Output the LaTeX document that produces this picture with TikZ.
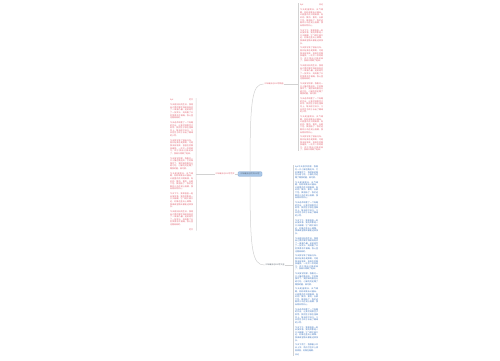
\documentclass[tikz,border=0pt]{standalone}
\usepackage{fontspec}
\newfontfamily\cjk{Noto Sans CJK SC}
\XeTeXlinebreaklocale "zh"
\XeTeXlinebreakskip=0pt plus 1pt
\setlength\parindent{0pt}
\tolerance=10000
\emergencystretch=3pt
\definecolor{redtxt}{HTML}{E0606F}
\definecolor{bluetxt}{HTML}{3A72BC}
\definecolor{linegray}{HTML}{D2D2D2}
\definecolor{centerfill}{HTML}{A9C7E8}
\definecolor{centerdraw}{HTML}{86A9D2}
\definecolor{labgray}{HTML}{5A6470}
\newcommand{\pA}{今天是星期天，天气晴朗，妈妈带我去公园玩。公园里的花开得真美，有红的、黄的、紫的，五颜六色，美丽极了。我们还看到小鸟在树上唱歌，我玩得非常开心。}
\newcommand{\pB}{今天下午，我和爸爸一起去放风筝。我的风筝是一只大蝴蝶，它飞得又高又远，好像在蓝天上跳舞。我真希望每天都能这样快乐。}
\newcommand{\pC}{今天我学会了骑自行车。刚开始我总是摔倒，可是我没有放弃，爸爸在后面扶着我，一次又一次地练习，终于我自己骑起来了，我高兴得跳了起来。}
\newcommand{\pD}{今天是妈妈的生日，我用自己攒的零花钱给妈妈买了一束康乃馨，还给她写了一张贺卡。妈妈看了以后笑得合不拢嘴，我心里也甜滋滋的。}
\newcommand{\pE}{今天放学回家，我看见一只小猫在路边叫，它好像饿坏了。我把带的面包分给它吃，小猫吃完还蹭了蹭我的腿，真可爱。}
\newcommand{\pF}{今天老师布置了一个有趣的作业，让我们观察豆子发芽。我把豆子放在湿棉花上，每天给它浇水，几天后豆子终于长出了嫩绿的小芽。}
\newcommand{\pG}{今天下雨了，我撑着小伞去上学，雨点打在伞上滴答滴答，好像在唱歌。}
\newcommand{\gp}{\par\vspace{2.2pt}}
\tikzset{
  conn/.style={draw=linegray, line width=0.5pt},
  colbox/.style={anchor=north west, inner sep=0pt, text width=23pt, align=justify,
    font=\cjk\fontsize{2.0}{2.6}\selectfont\tolerance=10000\emergencystretch=3pt},
  lab/.style={inner sep=0.6pt, font=\cjk\fontsize{2.0}{2.4}\selectfont},
  centerbox/.style={fill=centerfill, draw=centerdraw, line width=0.3pt, rounded corners=1pt,
    inner sep=0.8pt, minimum width=24pt, minimum height=4.6pt, text=labgray,
    font=\cjk\fontsize{2.0}{2.4}\selectfont}
}
\begin{document}
\begin{tikzpicture}[x=1pt,y=-1pt]
\useasboundingbox[fill=white] (0,0) rectangle (500,360);
% center
\node[centerbox] (c) at (250,174) {三年级日记作文100字};
% labels
\node[lab, text=redtxt] (L) at (225,174) {三年级日记100字范文};
\node[lab, text=redtxt] (TR) at (274,84) {三年级日记100字精选};
\node[lab, text=labgray] (BR) at (275,265) {三年级日记100字大全};
% columns
\node[colbox, text=redtxt] (TRcol) at (300,4) {\hfill\mbox{日记}\gp \pA\gp\pB\gp\pC\gp\pD\gp\pE\gp\pF\gp\pA\gp\pC};
\node[colbox, text=redtxt] (Lcol) at (170,99) {\hfill\mbox{范文}\gp \pD\gp\pF\gp\pC\gp\pE\gp\pA\gp\pB\gp\pD\gp\hfill\mbox{范文}};
\node[colbox, text=bluetxt] (BRcol) at (295,166) {\pE\gp\pA\gp\pF\gp\pB\gp\pD\gp\pC\gp\pE\gp\pA\gp\pF\gp\pB\gp\pG\gp\mbox{日记}};
% column rules
\coordinate (TRl1) at (298,3);
\coordinate (TRl2) at ([xshift=-2pt]TRcol.south west);
\draw[conn] (TRl1) -- (TRl2);
\coordinate (Ll1) at (196,98);
\coordinate (Ll2) at ([xshift=3pt]Lcol.south east);
\draw[conn] (Ll1) -- (Ll2);
\coordinate (BRl1) at (293,165);
\coordinate (BRl2) at ([xshift=-2pt]BRcol.south west);
\draw[conn] (BRl1) -- (BRl2);
% connectors
\draw[conn] (c.west) -- (L.east);
\coordinate (Lend) at (196,174);
\draw[conn] (L.west) -- (Lend);
\draw[conn] (c.north) .. controls (250,100) and (252,84) .. (TR.west);
\draw[conn] (c.south) .. controls (250,250) and (252,265) .. (BR.west);
\coordinate (TRend) at (298,84);
\draw[conn] (TR.east) -- (TRend);
\coordinate (BRend) at (293,265);
\draw[conn] (BR.east) -- (BRend);
\end{tikzpicture}
\end{document}
